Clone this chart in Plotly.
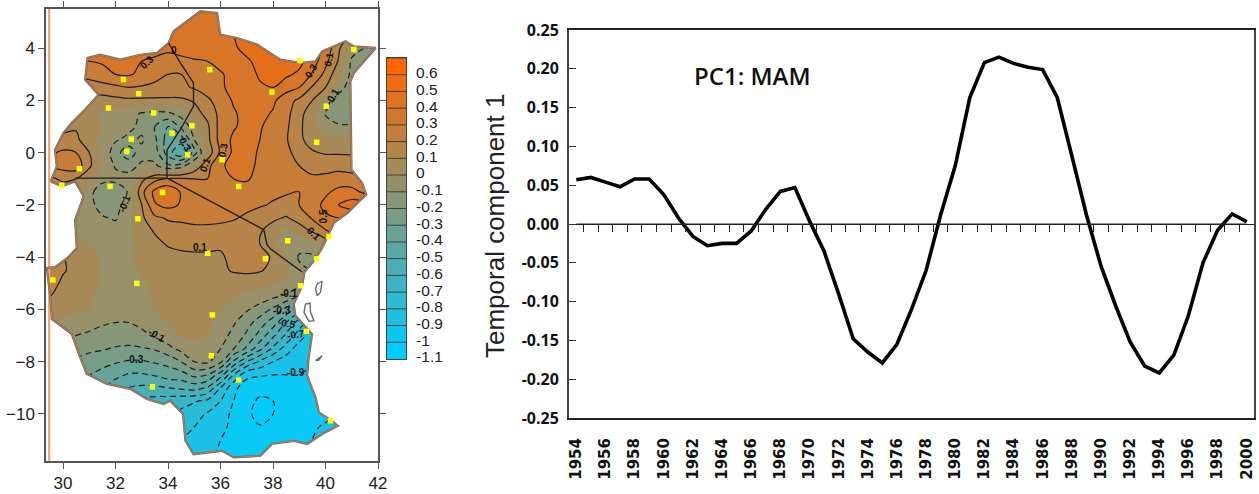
import plotly.graph_objects as go

W, H = 1259, 494

# ---------- time series ----------
years = list(range(1954, 2001))
pc1 = [.057, .060, .054, .048, .058, .058, .038, .008, -.016, -.028, -.025, -.025, -.009, .019, .042, .047,
       .004, -.035, -.090, -.148, -.165, -.179, -.155, -.110, -.060, .012, .075, .163, .208, .215, .207, .202,
       .199, .163, .088, .012, -.054, -.105, -.152, -.183, -.192, -.169, -.118, -.050, -.008, .013, .003]
y_ticks = [.25, .20, .15, .10, .05, 0, -.05, -.10, -.15, -.20, -.25]
y_labels = ["0.25", "0.20", "0.15", "0.10", "0.05", "0.00", "-0.05", "-0.10", "-0.15", "-0.20", "-0.25"]

# ---------- map field (hundredths) ----------
lons = [29 + .5 * i for i in range(27)]
lats = [5.5 - .5 * i for i in range(36)]
field = [
 [33,33,33,33,33,33,34,34,35,35,36,37,37,38,39,42,44,45,45,45,44,42,40,36,30,25,25],
 [33,33,33,33,33,33,34,34,35,35,35,37,37,38,39,41,44,45,45,45,45,42,38,30,20,15,15],
 [33,33,33,33,33,33,34,34,34,34,34,36,37,38,39,40,43,45,46,46,45,42,35,22,8,0,0],
 [32,32,32,32,32,32,33,33,33,32,31,33,35,36,37,39,42,44,46,46,45,40,27,12,-5,-10,-10],
 [30,30,30,30,30,31,33,33,30,29,28,28,29,30,33,36,39,42,45,45,43,35,23,9,-12,-15,-15],
 [20,20,20,22,24,27,30,31,28,23,20,20,24,26,29,33,37,41,43,42,38,29,17,3,-13,-18,-18],
 [10,10,10,12,14,16,18,20,19,18,17,18,21,25,29,32,35,39,40,34,30,19,10,-5,-16,-20,-20],
 [3,3,4,5,6,6,7,8,8,8,8,8,11,18,25,31,34,35,32,24,18,10,-2,-15,-20,-20,-20],
 [4,4,5,7,3,-2,-3,-6,-11,-13,-12,-6,6,13,23,29,33,33,29,23,14,3,-11,-18,-20,-20,-20],
 [6,7,8,9,4,0,-3,-8,-12,-20,-30,-18,-5,8,24,29,33,31,26,22,12,4,-5,-8,-8,-8,-8],
 [12,12,12,12,4,-3,-9,-12,-9,-18,-35,-35,-10,7,24,32,34,30,26,21,12,6,3,2,2,2,2],
 [18,18,22,20,10,-3,-15,-28,-12,-15,-35,-50,-25,3,22,32,33,29,25,22,17,11,9,9,9,9,9],
 [20,20,24,26,12,-2,-11,-12,-9,-8,-18,-15,2,17,28,34,33,28,25,23,20,18,17,17,15,15,15],
 [8,8,12,10,2,-5,-7,-8,7,17,21,21,20,20,25,30,31,27,24,23,22,21,22,24,24,24,24],
 [3,3,3,2,-5,-20,-17,-9,17,33,38,29,25,25,26,27,26,24,22,21,20,25,28,33,33,28,28],
 [0,0,0,-2,-7,-14,-14,-5,10,29,33,29,27,26,25,24,23,21,19,17,20,25,33,40,45,45,45],
 [0,0,0,-2,-6,-9,-11,-3,8,18,21,21,22,22,22,21,18,15,12,9,14,21,28,30,30,30,30],
 [0,0,0,-4,-5,-7,-6,-2,5,11,16,18,18,18,17,15,12,11,5,-3,5,11,19,25,25,25,25],
 [2,3,5,3,0,-3,-4,-2,3,7,11,12,13,13,12,14,13,10,3,-5,-7,-3,3,10,10,10,10],
 [6,8,10,8,3,-1,-4,-1,2,5,6,8,8,8,8,14,15,13,9,-2,-11,-12,-5,0,0,0,0],
 [12,13,11,7,3,-2,-4,-2,1,3,5,6,7,7,8,11,12,11,7,2,-8,-10,-8,-8,-8,-8,-8],
 [15,14,8,5,2,-1,-3,-2,-1,2,4,5,6,6,6,5,4,3,1,-1,-5,-7,-7,-7,-7,-7,-7],
 [10,10,6,4,1,-2,-3,-3,-2,1,3,4,5,5,3,1,-2,-5,-8,-12,-20,-25,-25,-25,-25,-25,-25],
 [3,3,3,2,0,-3,-3,-4,-3,0,2,3,3,3,0,-4,-9,-14,-22,-33,-45,-50,-50,-50,-50,-50,-50],
 [-1,-1,-2,-6,-8,-9,-10,-10,-8,-5,0,2,3,2,-3,-9,-16,-25,-35,-50,-65,-75,-75,-75,-75,-75,-75],
 [-7,-7,-7,-10,-11,-13,-14,-14,-12,-9,-4,0,2,0,-6,-13,-22,-34,-48,-62,-75,-85,-85,-85,-85,-85,-85],
 [-13,-13,-13,-15,-17,-19,-21,-22,-21,-19,-13,-7,-3,-3,-10,-20,-32,-47,-62,-75,-85,-90,-90,-90,-90,-90,-90],
 [-20,-20,-20,-22,-26,-27,-29,-31,-31,-29,-27,-20,-10,-8,-18,-42,-60,-72,-80,-85,-88,-90,-90,-90,-90,-90,-90],
 [-28,-28,-28,-28,-30,-33,-37,-41,-41,-39,-35,-34,-27,-30,-45,-70,-88,-89,-90,-90,-90,-90,-90,-90,-90,-90,-90],
 [-35,-35,-35,-35,-37,-40,-46,-50,-52,-52,-50,-48,-46,-51,-70,-88,-94,-96,-96,-95,-94,-94,-93,-93,-93,-93,-93],
 [-45,-45,-45,-45,-45,-46,-50,-57,-62,-64,-65,-67,-69,-72,-80,-90,-96,-102,-100,-97,-96,-95,-93,-93,-93,-93,-93],
 [-50,-50,-50,-50,-52,-55,-60,-64,-68,-70,-70,-72,-76,-81,-86,-92,-97,-105,-100,-98,-96,-95,-92,-90,-90,-90,-90],
 [-60,-60,-60,-60,-62,-65,-68,-72,-74,-76,-77,-78,-80,-84,-88,-92,-96,-99,-98,-96,-93,-91,-89,-86,-86,-86,-86],
 [-65,-65,-65,-65,-66,-68,-70,-74,-76,-78,-79,-80,-82,-87,-90,-93,-95,-97,-97,-95,-92,-90,-88,-86,-86,-86,-86],
 [-65,-65,-65,-65,-66,-68,-70,-74,-77,-79,-80,-81,-84,-88,-91,-93,-95,-96,-96,-94,-92,-90,-88,-86,-86,-86,-86],
 [-65,-65,-65,-65,-66,-68,-70,-74,-77,-79,-80,-81,-84,-88,-91,-93,-95,-96,-96,-94,-92,-90,-88,-86,-86,-86,-86],
]
for r in field:
    assert len(r) == 27, r
assert len(field) == 36
z_field = [[v / 100 for v in r] for r in field]

outline = [
 (29.53,-1.10),(29.76,-.52),(29.69,.11),(30.01,.75),(30.33,1.14),(30.84,1.65),(31.35,2.22),(30.84,2.80),(30.93,3.63),
 (31.41,3.75),(32.18,3.56),(32.94,3.75),(33.58,3.82),(34.02,4.20),(34.21,4.65),(35.23,5.42),(35.87,5.35),(35.99,4.52),
 (36.63,4.39),(37.39,4.14),(38.28,3.56),(39.05,3.44),(39.62,3.50),(39.87,3.88),(40.76,4.27),(41.08,4.07),(41.91,4.01),
 (41.08,3.05),(40.95,2.73),(40.99,-.65),(41.40,-1.16),(41.55,-1.61),(41.21,-1.93),(40.83,-2.31),(40.32,-2.69),(40.13,-3.08),
 (39.87,-3.65),(39.62,-4.06),(39.20,-4.57),(39.11,-5.09),(38.79,-5.79),(38.85,-6.23),(39.49,-6.94),(39.36,-7.83),(39.30,-8.53),
 (39.62,-9.36),(39.75,-9.94),(40.13,-10.19),(40.47,-10.45),(39.87,-10.77),(39.30,-11.15),(38.79,-11.03),(37.96,-11.15),
 (37.52,-11.60),(36.50,-11.66),(36.06,-11.41),(35.55,-11.47),(34.97,-11.54),(34.66,-11.02),(34.57,-10.00),(34.08,-9.49),
 (33.83,-9.62),(33.19,-9.43),(32.56,-9.04),(31.67,-8.85),(30.90,-8.47),(30.65,-7.83),(30.33,-6.94),(29.57,-6.36),(29.50,-5.40),
 (29.38,-4.41),(29.69,-4.38),(30.20,-4.00),(30.52,-3.65),(30.46,-2.57),(30.78,-1.67),(30.46,-1.10),(29.95,-1.29),(29.53,-1.10),
]
borders_lon = [34.02,34.47,34.97,34.97,34.47,33.96,33.96,37.65,37.77,37.90,39.11,None,30.46,33.96]
borders_lat = [4.20,3.44,2.67,1.78,.88,.11,-.97,-2.95,-3.52,-3.68,-4.57,None,-.97,-.97]
islands_lon = [39.68,39.87,39.81,39.68,39.62,39.68,None,39.24,39.41,39.43,39.56,39.37,39.18,39.24,None,39.62,39.87,39.75,39.62]
islands_lat = [-5.02,-4.92,-5.34,-5.47,-5.21,-5.02,None,-5.79,-5.76,-6.11,-6.43,-6.45,-6.11,-5.79,None,-7.96,-7.77,-7.94,-7.96]
station_lon = [32.30,32.88,35.59,37.96,39.02,41.08,40.03,39.66,31.73,33.45,32.60,32.43,34.15,34.91,34.75,36.06,36.69,30.62,
               29.95,31.79,33.79,32.85,38.56,40.13,35.51,37.71,39.66,29.61,32.81,39.05,35.69,39.27,35.65,36.69,33.40,40.19]
station_lat = [2.80,2.26,3.18,2.32,3.52,3.95,1.78,.40,1.71,1.52,.52,.05,.75,1.03,-.08,-.27,-1.29,-.61,
               -1.25,-1.29,-1.52,-2.53,-3.37,-3.21,-3.85,-4.06,-4.06,-4.87,-5.00,-5.09,-6.21,-6.84,-7.77,-8.70,-8.96,-10.26]
label_lon = [33.19,34.24,39.43,40.13,40.25,34.66,35.42,36.09,32.33,39.94,39.55,35.23,38.6,38.35,38.54,38.86,33.58,32.75,38.86]
label_lat = [3.44,3.91,3.12,3.56,2.16,.31,-.46,.09,-1.93,-2.44,-3.08,-3.61,-5.4,-6.04,-6.52,-6.94,-7.0,-7.9,-8.43]
label_txt = ["0.3","0","0.3","0.1","-0.1","0.3","0.1","0.3","-0.1","0.5","0.1","0.1","-0.1","-0.3","-0.5","-0.7","-0.1","-0.3","-0.9"]
label_ang = [-45,0,-60,-80,-60,60,-70,-80,-70,-90,45,0,0,0,10,-10,30,0,0]

# ---------- colour key ----------
key_levels = [-1.1,-1.0,-.9,-.8,-.7,-.6,-.5,-.4,-.3,-.2,-.1,0,.1,.2,.3,.4,.5,.6]
key_labels = ["-1.1","-1","-0.9","-0.8","-0.7","-0.6","-0.5","-0.4","-0.3","-0.2","-0.1","0","0.1","0.2","0.3","0.4","0.5","0.6"]
key_colors = ["#00ccff","#0fc6f0","#1ec0e1","#2dbad2","#3cb4c3","#4baeb4","#5aa8a5","#69a296","#789c87","#879678",
              "#969069","#a58a5a","#b4844b","#c37e3c","#d2782d","#e1721e","#f06c0f","#ff6600"]
cscale = [[i / 17, c] for i, c in enumerate(key_colors)]
# stops for the filled field: each band takes the colour of its own key cell
fill_scale = [[0, key_colors[0]]] + [[(1 + i) / 19, c] for i, c in enumerate(key_colors)] + [[1, key_colors[-1]]]

X_MIN, X_MAX, Y_MIN, Y_MAX = 29.35, 42, -11.8, 5.5
mask_x = [X_MIN - 1, X_MIN - 1, X_MAX + 1, X_MAX + 1, X_MIN - 1] + [p[0] for p in outline] + [X_MIN - 1]
mask_y = [Y_MAX + 1, Y_MIN - 1, Y_MIN - 1, Y_MAX + 1, Y_MAX + 1] + [p[1] for p in outline] + [Y_MAX + 1]

fig = go.Figure()
fig.add_trace(go.Contour(x=lons, y=lats, z=z_field, colorscale=fill_scale, zmin=-1.1, zmax=.7, showscale=False,
                         contours=dict(coloring="fill", start=-1.1, end=.7, size=.1),
                         line=dict(width=0), line_smoothing=1, hoverinfo="skip", xaxis="x", yaxis="y"))
fig.add_trace(go.Contour(x=lons, y=lats, z=z_field, showscale=False, autocontour=False,
                         contours=dict(coloring="none", start=.1, end=.6, size=.1),
                         line=dict(width=1.2, color="#1c1c1c"), line_smoothing=1, hoverinfo="skip", xaxis="x", yaxis="y"))
fig.add_trace(go.Contour(x=lons, y=lats, z=z_field, showscale=False, autocontour=False,
                         contours=dict(coloring="none", start=-1.0, end=-.1, size=.1),
                         line=dict(width=1.2, color="#1c1c1c", dash="6px,4px"), line_smoothing=1, hoverinfo="skip", xaxis="x", yaxis="y"))
fig.add_trace(go.Scatter(x=mask_x, y=mask_y, mode="lines", fill="toself", fillcolor="white", line=dict(width=0),
                         hoverinfo="skip", xaxis="x", yaxis="y"))
fig.add_trace(go.Scatter(x=[29.47, 29.47], y=[Y_MIN, Y_MAX], mode="lines", line=dict(color="#f4a375", width=2.2), xaxis="x", yaxis="y"))
fig.add_trace(go.Scatter(x=[p[0] for p in outline], y=[p[1] for p in outline], mode="lines",
                         line=dict(color="#6b6b6b", width=2.2), xaxis="x", yaxis="y"))
fig.add_trace(go.Scatter(x=[p[0] for p in outline], y=[p[1] for p in outline], mode="lines",
                         line=dict(color="#d9803f", width=.8), xaxis="x", yaxis="y"))
fig.add_trace(go.Scatter(x=borders_lon, y=borders_lat, mode="lines", line=dict(color="#1c1c1c", width=1.3), xaxis="x", yaxis="y"))
fig.add_trace(go.Scatter(x=islands_lon, y=islands_lat, mode="lines", line=dict(color="#6b6b6b", width=1.4), xaxis="x", yaxis="y"))
fig.add_trace(go.Scatter(x=station_lon, y=station_lat, mode="markers",
                         marker=dict(symbol="square", size=5.5, color="#ffff00"), xaxis="x", yaxis="y"))

# colour key
fig.add_trace(go.Heatmap(x=[0], y=[v + .05 for v in key_levels], z=[[v + .05] for v in key_levels], colorscale=cscale,
                         zmin=-1.05, zmax=.65, showscale=False, xaxis="x3", yaxis="y3", hoverinfo="skip"))
sep_x, sep_y = [], []
for v in key_levels[1:] + [.7]:
    sep_x += [-.5, .5, None]
    sep_y += [v, v, None]
fig.add_trace(go.Scatter(x=sep_x, y=sep_y, mode="lines", line=dict(color="#3f3f3f", width=1), xaxis="x3", yaxis="y3"))

# series
fig.add_trace(go.Scatter(x=years, y=[0] * len(years), mode="lines", line=dict(color="#222", width=1), xaxis="x4", yaxis="y2"))
fig.add_trace(go.Scatter(x=years, y=pc1, mode="lines", line=dict(color="#000", width=3.6), xaxis="x2", yaxis="y2"))

map_font = dict(family="Liberation Sans", size=17, color="#222")
ax_map = dict(automargin=False, showgrid=False, zeroline=False, showline=True, linecolor="#555", linewidth=1.5, mirror="ticks",
              ticks="outside", ticklen=6, tickcolor="#555", tickfont=map_font)
y_dom = [1 - 418 / H, 1 - 30 / H]
ann = [dict(x=a, y=b, xref="x", yref="y", text=t, showarrow=False, textangle=g,
            font=dict(family="Liberation Sans", size=10, color="#111", weight="bold"))
       for a, b, t, g in zip(label_lon, label_lat, label_txt, label_ang)]
ann.append(dict(x=1966.1, y=.191, xref="x2", yref="y2", text="PC1: MAM", showarrow=False,
                font=dict(family="Open Sans", size=24, color="#111", weight=600)))
ann.append(dict(x=495 / W, y=1 - 226 / H, xref="paper", yref="paper", text="Temporal component 1", showarrow=False,
                textangle=-90, font=dict(family="Liberation Sans", size=26, color="#222")))

fig.update_layout(
    width=W, height=H, margin=dict(l=0, r=0, t=0, b=0, pad=0), paper_bgcolor="white", plot_bgcolor="white", showlegend=False,
    annotations=ann,
    xaxis=dict(ax_map, domain=[46 / W, 378 / W], range=[X_MIN, X_MAX], tickvals=list(range(30, 43, 2)), anchor="y"),
    yaxis=dict(ax_map, domain=[1 - 461 / H, 1 - 9 / H], range=[Y_MIN, Y_MAX], tickvals=list(range(-10, 5, 2)), anchor="x"),
    xaxis3=dict(automargin=False, domain=[387 / W, 406 / W], range=[-.5, .5], showticklabels=False, ticks="", showgrid=False, zeroline=False,
                showline=True, linecolor="#444", linewidth=1, mirror=True, anchor="y3"),
    yaxis3=dict(automargin=False, domain=[1 - 359 / H, 1 - 58 / H], range=[-1.1, .7], side="right", tickvals=key_levels, ticktext=key_labels,
                ticks="", showgrid=False, zeroline=False, showline=True, linecolor="#444", linewidth=1, mirror=True,
                ticklabelstandoff=6, ticklabelshift=-2, tickfont=dict(family="Liberation Sans", size=15.5, color="#222"), anchor="x3"),
    xaxis2=dict(automargin=False, domain=[569 / W, 1254 / W], range=[1953.5, 2000.5], tickvals=years[::2], ticktext=[str(y) for y in years[::2]],
                tickangle=-90, ticks="", showgrid=False, zeroline=False, showline=True, linecolor="#222", linewidth=2, mirror=True,
                ticklabelstandoff=12, tickfont=dict(family="DejaVu Sans", size=15, weight="bold", color="#111"), anchor="y2"),
    yaxis2=dict(automargin=False, domain=y_dom, range=[-.25, .25], tickvals=y_ticks, ticktext=y_labels, ticks="inside", ticklen=7, tickcolor="#333",
                showgrid=False, zeroline=False, showline=True, linecolor="#444", linewidth=2, mirror=True, ticklabelstandoff=5,
                tickfont=dict(family="Open Sans", size=16, weight="bold", color="#111"), anchor="x2"),
    xaxis4=dict(automargin=False, domain=[569 / W, 1254 / W], range=[1953.5, 2000.5], overlaying="x2", anchor="free", position=sum(y_dom) / 2,
                tickvals=[y + .5 for y in years[:-1]], ticks="outside", ticklen=7, tickcolor="#222", showticklabels=False,
                showgrid=False, zeroline=False, showline=True, linecolor="#222", linewidth=1),
)
fig.write_html("out.html", config=dict(displayModeBar=False), post_script="document.body.style.margin='0';")
